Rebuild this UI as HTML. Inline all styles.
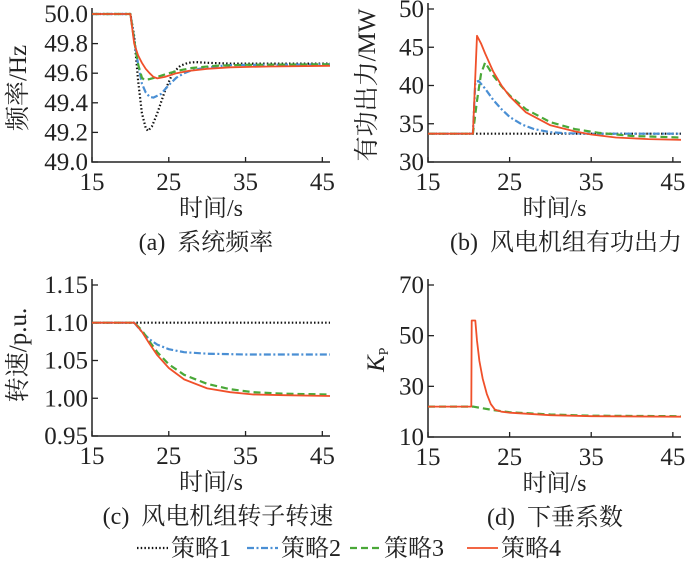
<!DOCTYPE html>
<html><head><meta charset="utf-8"><style>
html,body{margin:0;padding:0;background:#fff;}
svg{display:block;}
text{font-family:"Liberation Serif","Noto Serif CJK SC",serif;fill:#222;}
.cap{white-space:pre;}
</style></head><body>
<svg id="chart" width="700" height="565" viewBox="0 0 700 565" xmlns="http://www.w3.org/2000/svg"></svg>
<script>
// ---- data ----
const ticksX = [15, 25, 35, 45];
const ticksA = [49.0, 49.2, 49.4, 49.6, 49.8, 50.0];
const ticksB = [30, 35, 40, 45, 50];
const ticksC = [0.95, 1.00, 1.05, 1.10, 1.15];
const ticksD = [10, 30, 50, 70];
// panel a: frequency
const tA1 = [15,20,20.5,21,21.5,22,22.3,22.8,23.5,24.5,25.5,26.5,27.5,28.5,30,33,46];
const vA1 = [50,50,49.85,49.55,49.33,49.23,49.21,49.24,49.33,49.48,49.6,49.65,49.67,49.675,49.67,49.665,49.665];
const tA2 = [15,20,20.5,21,21.5,22,22.5,23,24,25,26,27,28,30,33,46];
const vA2 = [50,50,49.83,49.66,49.53,49.47,49.44,49.435,49.46,49.52,49.57,49.6,49.62,49.64,49.655,49.66];
const tA3 = [15,20,20.5,21,21.5,21.8,22.5,23.5,25,26.5,28,31,35,46];
const vA3 = [50,50,49.82,49.66,49.57,49.555,49.56,49.575,49.6,49.62,49.635,49.65,49.657,49.66];
const tA4 = [15,20,20.5,21,21.5,22,22.5,23,23.5,24.5,26,27.5,30,33,38,46];
const vA4 = [50,50,49.8,49.72,49.67,49.63,49.6,49.575,49.565,49.575,49.6,49.615,49.63,49.64,49.645,49.65];
// panel b: active power
const tB1 = [15,46];
const vB1 = [33.7,33.7];
const tB2 = [15,20.5,20.8,21.2,22,23,24,25,26.5,28,30,32,35,46];
const vB2 = [33.7,33.7,40.4,40.6,39.6,38.1,36.9,35.9,34.9,34.3,33.9,33.75,33.7,33.7];
const tB3 = [15,20.5,21,21.5,22,23,24,25,27,30,33,36,40,46];
const vB3 = [33.7,33.7,38,41.5,43,41.3,39.9,38.7,36.9,35.2,34.3,33.8,33.4,33.2];
const tB4 = [15,20.5,21,21.5,22,23,24,25,27,30,33,35,38,42,46];
const vB4 = [33.7,33.7,46.5,45.5,44.2,41.8,40,38.6,36.5,34.8,34,33.6,33.2,33,32.9];
// panel c: rotor speed
const tC1 = [15,46];
const vC1 = [1.10,1.10];
const tC2 = [15,20.5,21.5,22.5,23.5,25,27,30,35,46];
const vC2 = [1.10,1.10,1.088,1.078,1.071,1.065,1.061,1.059,1.058,1.058];
const tC3 = [15,20.5,21.5,22.5,23.5,25,27,30,33,36,40,46];
const vC3 = [1.10,1.10,1.09,1.075,1.061,1.045,1.031,1.019,1.012,1.008,1.006,1.005];
const tC4 = [15,20.5,21.5,22.5,23.5,25,27,30,33,36,40,46];
const vC4 = [1.10,1.10,1.088,1.072,1.057,1.04,1.025,1.013,1.008,1.005,1.004,1.003];
// panel d: droop coefficient
const tD3 = [15,20.5,23,25,30,35,46];
const vD3 = [22,22,20.6,19.8,18.9,18.4,18.2];
const tD4 = [15,20.3,20.35,20.8,21,21.3,21.7,22.2,22.7,23.2,24,25,30,35,46];
const vD4 = [22,22,56,56,48,40,33,27,23,20.8,20,19.6,18.6,18.2,18.0];

const NS='http://www.w3.org/2000/svg';
const svg=document.getElementById('chart');
function mk(tag,attrs,parent){const e=document.createElementNS(NS,tag);for(const k in attrs)e.setAttribute(k,attrs[k]);(parent||svg).appendChild(e);return e;}
const styles={
 s1:{stroke:'#111','stroke-width':2.2,'stroke-dasharray':'1.5 2.2'},
 s2:{stroke:'#4a8fd4','stroke-width':2.2,'stroke-dasharray':'7 2.5 2 2.5'},
 s3:{stroke:'#4aa838','stroke-width':2.2,'stroke-dasharray':'7 4'},
 s4:{stroke:'#f0502a','stroke-width':1.8}
};
function panel(cfg){
 const g=mk('g',{});
 
 
 const sx=t=>cfg.x0+(t-15)*(cfg.x1-cfg.x0)/(46-15);
 const sy=v=>cfg.yb+(v-cfg.ymin)*(cfg.yt-cfg.yb)/(cfg.ymax-cfg.ymin);
 const ax=mk('path',{d:`M${cfg.x0},${sy(cfg.ymax)-6}V${cfg.yb}H${cfg.x1}`,stroke:'#222','stroke-width':1.5,fill:'none'},g);
 
 
 cfg.yt_.forEach(v=>{
  mk('line',{x1:cfg.x0,x2:cfg.x0+6,y1:sy(v),y2:sy(v),stroke:'#222','stroke-width':1.3},g);
  const t=mk('text',{x:cfg.x0-4,y:sy(v)+8,'text-anchor':'end','font-size':25},g);
  t.textContent=cfg.fmt(v);
  
  
 });
 ticksX.forEach(v=>{
  mk('line',{x1:sx(v),x2:sx(v),y1:cfg.yb,y2:cfg.yb-5,stroke:'#222','stroke-width':1.3},g);
  const t=mk('text',{x:sx(v),y:cfg.yb+28,'text-anchor':'middle','font-size':25},g);
  t.textContent=v;
  
  
 });
 cfg.series.forEach(s=>{
  const d=s.t.map((t,i)=>(i?'L':'M')+sx(t).toFixed(1)+','+sy(s.v[i]).toFixed(1)).join('');
  const p=mk('path',Object.assign({d:d,fill:'none','stroke-linejoin':'round'},styles[s.st]),g);
  
  
 });
 const xl=mk('text',{x:(cfg.x0+cfg.x1)/2,y:cfg.yb+54,'text-anchor':'middle','font-size':24},g);
 xl.textContent='时间/s';
 
 
 const cap=mk('text',{x:cfg.capx,y:cfg.yb+88,'text-anchor':'middle','font-size':24,'class':'cap'},g);
 cap.textContent=cfg.cap;
 
 
 if(cfg.ylab){
  const yl=mk('text',{x:0,y:0,'text-anchor':'middle','font-size':25,transform:`translate(${cfg.ylx},${cfg.yly}) rotate(-90)`},g);
  yl.textContent=cfg.ylab;
  
  
 }
 return g;
}
panel({name:'panel-a-frequency',x0:92,x1:330,yb:162,yt:14,ymin:49.0,ymax:50.0,yt_:ticksA,fmt:v=>v.toFixed(1),
 ylab:'频率/Hz',ylx:26,yly:88,cap:'(a)  系统频率',capx:206,
 series:[{t:tA1,v:vA1,st:'s1',name:'series-strategy1'},{t:tA2,v:vA2,st:'s2',name:'series-strategy2'},{t:tA3,v:vA3,st:'s3',name:'series-strategy3'},{t:tA4,v:vA4,st:'s4',name:'series-strategy4'}]});
panel({name:'panel-b-power',x0:428,x1:681,yb:162,yt:9,ymin:30,ymax:50,yt_:ticksB,fmt:v=>v,
 ylab:'有功出力/MW',ylx:375,yly:85,cap:'(b)  风电机组有功出力',capx:566,
 series:[{t:tB1,v:vB1,st:'s1',name:'series-strategy1'},{t:tB2,v:vB2,st:'s2',name:'series-strategy2'},{t:tB3,v:vB3,st:'s3',name:'series-strategy3'},{t:tB4,v:vB4,st:'s4',name:'series-strategy4'}]});
panel({name:'panel-c-speed',x0:92,x1:330,yb:436,yt:285,ymin:0.95,ymax:1.15,yt_:ticksC,fmt:v=>v.toFixed(2),
 ylab:'转速/p.u.',ylx:26,yly:355,cap:'(c)  风电机组转子转速',capx:218,
 series:[{t:tC1,v:vC1,st:'s1',name:'series-strategy1'},{t:tC2,v:vC2,st:'s2',name:'series-strategy2'},{t:tC3,v:vC3,st:'s3',name:'series-strategy3'},{t:tC4,v:vC4,st:'s4',name:'series-strategy4'}]});
panel({name:'panel-d-droop',x0:428,x1:681,yb:437,yt:285,ymin:10,ymax:70,yt_:ticksD,fmt:v=>v,
 ylab:null,cap:'(d)  下垂系数',capx:555,
 series:[{t:tD3,v:vD3,st:'s3',name:'series-strategy3'},{t:tD4,v:vD4,st:'s4',name:'series-strategy4'}]});
// Kp label
const kp=mk('text',{x:0,y:0,'font-size':25,transform:'translate(384,372) rotate(-90)'});
kp.innerHTML='<tspan font-style="italic">K</tspan><tspan font-size="14" dy="4">P</tspan>';


// legend
const legNames=['策略1','策略2','策略3','策略4'];
const legX=[137,247,350,467];
const lg=mk('g',{});


legNames.forEach((n,i)=>{
 const e=mk('g',{},lg);
 
 
 mk('line',Object.assign({x1:legX[i],x2:legX[i]+31,y1:548,y2:548},styles['s'+(i+1)]),e);
 const t=mk('text',{x:legX[i]+34,y:556,'font-size':24},e);
 t.textContent=n;
});
</script>
</body></html>
